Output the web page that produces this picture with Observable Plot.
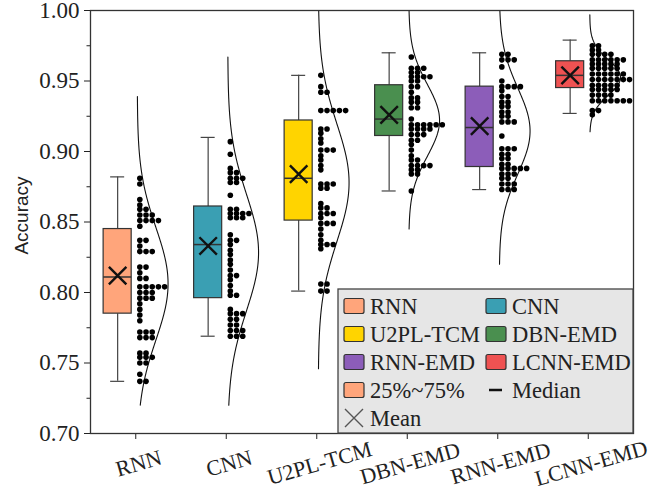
<!DOCTYPE html>
<html>
<head>
<meta charset="utf-8">
<script src="https://cdn.jsdelivr.net/npm/d3@7"></script>
<script src="https://cdn.jsdelivr.net/npm/@observablehq/plot@0.6"></script>
<style>
  body { margin: 0; background: #fff; }
  #chart { width: 667px; height: 486px; }
</style>
</head>
<body>
<div id="chart"></div>
<script>
// Models compared and their box colours
const models = ["RNN", "CNN", "U2PL-TCM", "DBN-EMD", "RNN-EMD", "LCNN-EMD"];
const boxColors = ["#FFA57B", "#3A9FB3", "#FFD400", "#4A8F4F", "#8C5DB9", "#EF5252"];

// Box statistics (accuracy)
const whiskerLow  = [0.737, 0.769, 0.801, 0.872, 0.873, 0.927];
const q1          = [0.785, 0.796, 0.851, 0.911, 0.889, 0.945];
const median      = [0.811, 0.834, 0.881, 0.923, 0.917, 0.954];
const q3          = [0.845, 0.861, 0.922, 0.947, 0.946, 0.964];
const whiskerHigh = [0.882, 0.910, 0.954, 0.970, 0.970, 0.979];
const means       = [0.812, 0.833, 0.884, 0.926, 0.918, 0.954];

// Vertical extent of each fitted normal curve
const curveLow  = [0.720, 0.720, 0.746, 0.845, 0.820, 0.914];
const curveHigh = [0.939, 0.967, 1.000, 1.000, 1.000, 0.997];

// Individual runs, as [accuracy, number of runs at that accuracy]
const rnnDots = [[0.881,1],[0.877,1],[0.866,1],[0.862,1],[0.859,2],[0.855,3],[0.851,4],[0.847,1],
  [0.837,2],[0.833,1],[0.829,3],[0.818,2],[0.814,1],[0.810,2],[0.804,5],[0.800,3],[0.796,3],
  [0.792,1],[0.788,1],[0.784,1],[0.780,1],[0.772,3],[0.768,3],[0.757,2],[0.754,3],[0.750,2],
  [0.742,1],[0.737,2]];
const cnnDots = [[0.907,1],[0.898,1],[0.888,1],[0.885,2],[0.881,3],[0.878,2],[0.869,1],[0.859,2],
  [0.856,4],[0.853,3],[0.841,1],[0.837,2],[0.834,1],[0.830,1],[0.827,1],[0.823,1],[0.820,1],
  [0.816,1],[0.812,2],[0.809,1],[0.805,1],[0.801,1],[0.798,2],[0.788,1],[0.785,3],[0.781,2],
  [0.777,2],[0.773,3],[0.769,3]];
const u2plDots = [[0.954,1],[0.946,1],[0.942,2],[0.929,5],[0.916,2],[0.913,1],[0.909,1],[0.906,1],
  [0.901,3],[0.897,1],[0.894,1],[0.890,1],[0.887,1],[0.877,3],[0.874,2],[0.863,1],[0.860,2],
  [0.856,3],[0.853,1],[0.849,3],[0.845,1],[0.841,1],[0.837,1],[0.834,3],[0.831,1],[0.806,2],
  [0.801,2]];
const dbnDots = [[0.967,1],[0.959,3],[0.956,2],[0.953,4],[0.950,2],[0.946,2],[0.942,1],[0.938,2],
  [0.935,2],[0.931,2],[0.923,1],[0.919,6],[0.916,4],[0.912,3],[0.908,2],[0.905,1],[0.901,1],
  [0.897,1],[0.894,2],[0.890,4],[0.887,2],[0.884,2],[0.872,1]];
const rnnEmdDots = [[0.969,2],[0.965,3],[0.960,1],[0.950,1],[0.946,4],[0.943,1],[0.939,2],[0.935,2],
  [0.932,2],[0.928,2],[0.925,2],[0.921,3],[0.911,1],[0.902,3],[0.898,2],[0.895,2],[0.891,2],
  [0.888,5],[0.884,3],[0.881,2],[0.877,3],[0.873,3]];
const lcnnDots = [[0.975,2],[0.972,2],[0.969,4],[0.965,6],[0.962,5],[0.959,5],[0.955,6],[0.951,7],
  [0.947,5],[0.944,5],[0.940,4],[0.936,7],[0.929,2],[0.926,1]];
const dotRows = [rnnDots, cnnDots, u2plDots, dbnDots, rnnEmdDots, lcnnDots];

// Y axis ticks
const yMajor = [0.70, 0.75, 0.80, 0.85, 0.90, 0.95, 1.00];
const yMinor = [0.725, 0.775, 0.825, 0.875, 0.925, 0.975];

// Layout within each category slot (x units: one slot = 1)
const BOX_OFFSET = -0.2, BOX_W = 0.31, CAP_W = 0.155;
const DOT_START = 0.045, DOT_STEP = 0.0685;
const CURVE_BASE = 0.017, CURVE_PEAK = 0.34;

const boxes = models.map((name, i) => ({
  i, name, color: boxColors[i], cx: i + BOX_OFFSET,
  lo: whiskerLow[i], q1: q1[i], med: median[i], q3: q3[i], hi: whiskerHigh[i], mean: means[i]
}));

// Dots stacked to the right, one row per accuracy value
const dots = dotRows.flatMap((rows, i) =>
  rows.flatMap(([v, n]) => d3.range(n).map(k => ({x: i + DOT_START + k * DOT_STEP, y: v}))));

// Normal curve fitted to each model's runs
const curves = dotRows.flatMap((rows, i) => {
  const vals = rows.flatMap(([v, n]) => Array(n).fill(v));
  const m = d3.mean(vals), s = d3.deviation(vals);
  const ys = d3.range(curveLow[i], curveHigh[i], 0.001).concat([curveHigh[i]]);
  return ys.map(v => ({g: i, y: v, x: i + CURVE_BASE + CURVE_PEAK * Math.exp(-0.5 * ((v - m) / s) ** 2)}));
});

const serif = "'Liberation Serif', 'Times New Roman', serif";
const ink = "#222";

const svg = Plot.plot({
  width: 667,
  height: 486,
  marginLeft: 90,
  marginRight: 34,
  marginTop: 10,
  marginBottom: 53,
  style: {fontFamily: serif, fontSize: "23px", background: "#fff", color: ink},
  x: {domain: [-0.5, models.length - 0.5]},
  y: {domain: [0.70, 1.00]},
  marks: [
    Plot.axisY({ticks: yMajor, tickFormat: d3.format(".2f"), tickSize: 6, tickPadding: 5, label: null}),
    Plot.axisY({ticks: yMinor, tickFormat: () => "", tickSize: 3.5, label: null}),
    Plot.axisX({ticks: d3.range(models.length), tickFormat: () => "", tickSize: 6, label: null}),
    Plot.text(models, {x: (d, i) => i, y: 0.70, text: d => d, dy: 30, dx: 3, rotate: -16,
      textAnchor: "middle", fontSize: 22, fill: ink}),

    // fitted distribution curves
    Plot.line(curves, {x: "x", y: "y", z: "g", stroke: "#111", strokeWidth: 1.1, clip: true}),

    // whiskers and caps
    Plot.ruleX(boxes, {x: "cx", y1: "lo", y2: "q1", stroke: "#444", strokeWidth: 1.2}),
    Plot.ruleX(boxes, {x: "cx", y1: "q3", y2: "hi", stroke: "#444", strokeWidth: 1.2}),
    Plot.ruleY(boxes, {y: "lo", x1: d => d.cx - CAP_W / 2, x2: d => d.cx + CAP_W / 2, stroke: "#444", strokeWidth: 1.2}),
    Plot.ruleY(boxes, {y: "hi", x1: d => d.cx - CAP_W / 2, x2: d => d.cx + CAP_W / 2, stroke: "#444", strokeWidth: 1.2}),

    // interquartile boxes, medians and means
    Plot.rect(boxes, {x1: d => d.cx - BOX_W / 2, x2: d => d.cx + BOX_W / 2, y1: "q1", y2: "q3",
      fill: "color", stroke: "#333", strokeWidth: 1.2}),
    Plot.ruleY(boxes, {y: "med", x1: d => d.cx - BOX_W / 2, x2: d => d.cx + BOX_W / 2, stroke: "#333", strokeWidth: 1.5}),
    Plot.dot(boxes, {x: "cx", y: "mean", symbol: "times", r: 8, stroke: "#111", strokeWidth: 2.4}),

    // individual runs
    Plot.dot(dots, {x: "x", y: "y", r: 2.8, fill: "#000", stroke: "none"}),

    Plot.frame({stroke: "#333", strokeWidth: 1.3})
  ]
});

document.getElementById("chart").appendChild(svg);

const xs = svg.scale("x"), ys = svg.scale("y");
const frameLeft = xs.apply(-0.5), frameRight = xs.apply(models.length - 0.5);
const frameTop = ys.apply(1.00), frameBottom = ys.apply(0.70);

// Y axis title
d3.select(svg).append("text")
  .attr("transform", `translate(${frameLeft - 69},${(frameTop + frameBottom) / 2 - 6}) rotate(-90)`)
  .attr("text-anchor", "middle").attr("dy", "0.35em")
  .attr("fill", ink)
  .style("font-family", "Arial, 'Liberation Sans', sans-serif").style("font-size", "19px")
  .text("Accuracy");

// Legend box in the lower right corner of the plot area
const legW = 295, legH = 144;
const legX = frameRight - legW, legY = frameBottom - legH;

const legendItems = [
  {label: "RNN", kind: "swatch", color: boxColors[0]},
  {label: "CNN", kind: "swatch", color: boxColors[1]},
  {label: "U2PL-TCM", kind: "swatch", color: boxColors[2]},
  {label: "DBN-EMD", kind: "swatch", color: boxColors[3]},
  {label: "RNN-EMD", kind: "swatch", color: boxColors[4]},
  {label: "LCNN-EMD", kind: "swatch", color: boxColors[5]},
  {label: "25%~75%", kind: "swatch", color: boxColors[0]},
  {label: "Median", kind: "median"},
  {label: "Mean", kind: "mean"}
];

const lg = d3.select(svg).append("g")
  .attr("font-family", serif).attr("font-size", 22.5).attr("fill", ink).attr("text-anchor", "start");
lg.append("rect")
  .attr("x", legX).attr("y", legY).attr("width", legW).attr("height", legH)
  .attr("fill", "#e6e6e6").attr("stroke", "#444").attr("stroke-width", 1.3);

legendItems.forEach((item, k) => {
  const col = k % 2, row = Math.floor(k / 2);
  const x0 = legX + 6 + col * 142;
  const cy = legY + 17 + row * 28;
  const itemG = lg.append("g");
  if (item.kind === "swatch") {
    itemG.append("rect").attr("x", x0).attr("y", cy - 7.5).attr("width", 20).attr("height", 15)
      .attr("rx", 2).attr("fill", item.color).attr("stroke", "#333").attr("stroke-width", 1.2);
  } else if (item.kind === "median") {
    itemG.append("line").attr("x1", x0 + 3).attr("x2", x0 + 16).attr("y1", cy).attr("y2", cy)
      .attr("stroke", "#111").attr("stroke-width", 2.5);
  } else {
    itemG.append("path")
      .attr("d", `M${x0 + 1},${cy - 9}L${x0 + 19},${cy + 9}M${x0 + 19},${cy - 9}L${x0 + 1},${cy + 9}`)
      .attr("stroke", "#555").attr("stroke-width", 1.4).attr("fill", "none");
  }
  itemG.append("text").attr("x", x0 + 26).attr("y", cy).attr("dy", "0.35em")
    .attr("text-anchor", "start").text(item.label);
});
</script>
</body>
</html>
